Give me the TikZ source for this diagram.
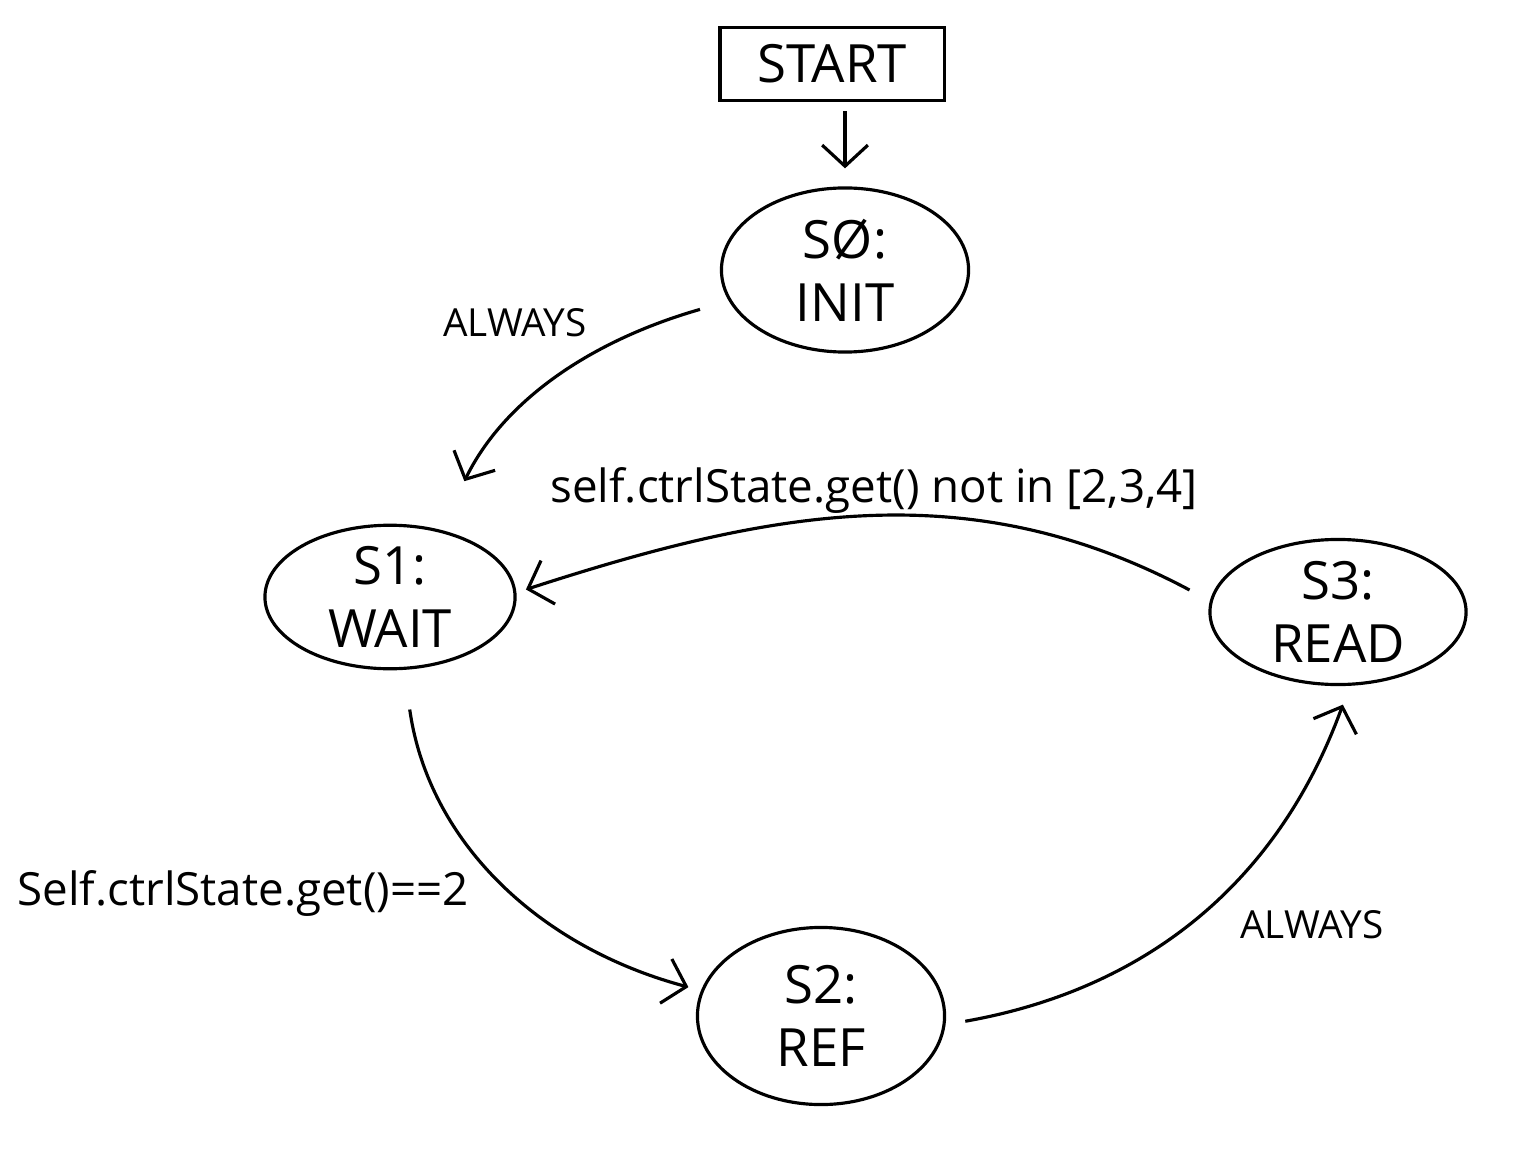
\documentclass[tikz,border=0pt]{standalone}
\usepackage{fontspec}
\setmainfont{Open Sans}
\usetikzlibrary{arrows.meta, shapes.geometric}
\tikzset{
    state/.style={ellipse, draw, line width=0.9pt, inner sep=0pt, align=center, font=\fontsize{15}{18}\selectfont}, % states
    trans/.style={line width=0.9pt, -{Straight Barb[length=6pt, width=13pt, line width=0.9pt]}}, % transitions
    cond/.style={inner sep=0pt, font=\fontsize{11}{13}\selectfont}, % conditions
    long cond/.style={cond, font=\fontsize{13}{15}\selectfont}
}

\begin{document}
\begin{tikzpicture}[x=0.01cm, y=-0.01cm]
            \useasboundingbox (0,0) rectangle (1519,1158);

            \node[draw, line width=0.9pt, minimum width=2.24cm, minimum height=0.73cm, font=\fontsize{15}{15}\selectfont] (start) at (832,64) {START};
            \node[state, minimum width=2.47cm, minimum height=1.64cm] (s0) at (845,270) {SØ:\\INIT};
            \node[state, minimum width=2.50cm, minimum height=1.27cm] (s1) at (390,597) {S1:\\WAIT};
            \node[state, minimum width=2.47cm, minimum height=1.77cm] (s2) at (821,1016) {S2:\\REF};
            \node[state, minimum width=2.56cm, minimum height=1.45cm] (s3) at (1338,612) {S3:\\READ};

            \draw[trans, shorten <=0.9mm, shorten >=1.8mm] (start.south -| s0.north) -- (s0.north);
            \draw[trans, shorten <=3mm, shorten >=5.4mm] (s0.195) to[out=196, in=64] (s1.53);
            \draw[trans, shorten <=2.3mm, shorten >=1mm] (s3.175) to[out=152, in=18] (s1.2);
            \draw[trans, shorten <=4mm, shorten >=1.3mm] (s1.-79) to[out=-82, in=165] (s2.168);
            \draw[trans, shorten <=2mm, shorten >=2mm] (s2.-4) to[out=10, in=250] (s3.-81);

            \node[cond] (c01) at (515,323) {ALWAYS};
            \node[long cond] (c31) at (874,490) {self.ctrlState.get() not in [2,3,4]};
            \node[long cond] (c12) at (243,893) {Self.ctrlState.get()==2};
            \node[cond] (c23) at (1312,925) {ALWAYS};
        \end{tikzpicture}
\end{document}
